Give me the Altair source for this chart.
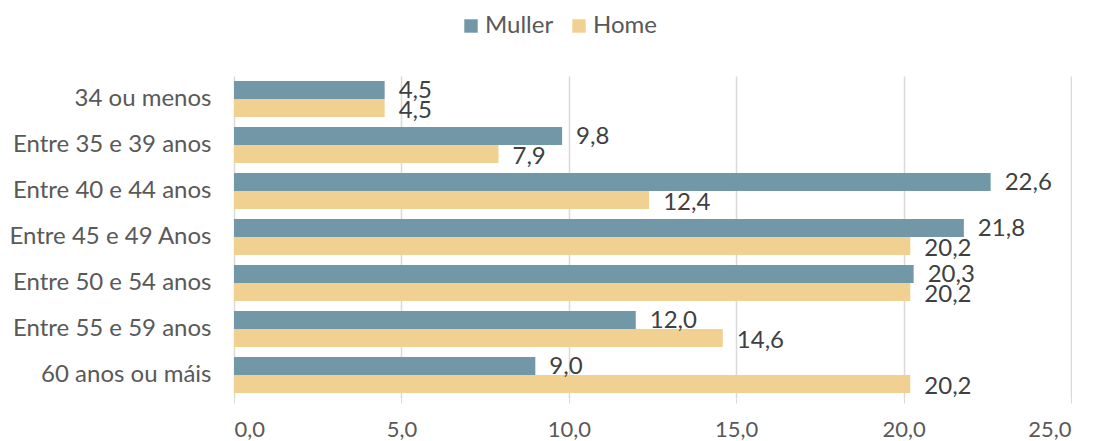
import altair as alt
import pandas as pd

categories = ["34 ou menos", "Entre 35 e 39 anos", "Entre 40 e 44 anos",
              "Entre 45 e 49 Anos", "Entre 50 e 54 anos", "Entre 55 e 59 anos",
              "60 anos ou máis"]
muller = [4.5, 9.8, 22.6, 21.8, 20.3, 12.0, 9.0]
home = [4.5, 7.9, 12.4, 20.2, 20.2, 14.6, 20.2]
series = ["Muller", "Home"]
colors = ["#7298A8", "#F1D192"]
x_ticks = [0, 5, 10, 15, 20, 25]

rows = []
for c, m, h in zip(categories, muller, home):
    rows.append({"cat": c, "serie": "Muller", "val": m})
    rows.append({"cat": c, "serie": "Home", "val": h})
df = pd.DataFrame(rows)

FONT = "Lato"
xscale = alt.Scale(domain=[0, 25], nice=False, zero=True)

base = alt.Chart(df).transform_calculate(
    label="replace(format(datum.val, '.1f'), '.', ',')"
).encode(
    y=alt.Y("cat:N", sort=categories,
            scale=alt.Scale(paddingInner=0.22, paddingOuter=0.11),
            axis=alt.Axis(title=None, labelFontSize=24, labelColor="#595959",
                          labelFont=FONT, ticks=False, domain=False, labelLimit=0,
                          labelPadding=23, grid=False)),
    yOffset=alt.YOffset("serie:N", sort=series,
                        scale=alt.Scale(domain=series, paddingInner=0, paddingOuter=0)),
)

bars = base.mark_bar().encode(
    x=alt.X("val:Q", scale=xscale,
            axis=alt.Axis(title=None, values=x_ticks,
                          labelExpr="replace(format(datum.value, '.1f'), '.', ',')",
                          labelFontSize=22, labelColor="#595959", labelFont=FONT,
                          domain=False, ticks=True, tickSize=5, tickColor="#d9d9d9",
                          gridColor="#d9d9d9", gridWidth=1.5, labelPadding=16)),
    color=alt.Color("serie:N", sort=series,
                    scale=alt.Scale(domain=series, range=colors),
                    legend=alt.Legend(title=None, orient="none", direction="horizontal",
                                      legendX=225, legendY=-62, symbolType="square",
                                      symbolSize=180, symbolStrokeWidth=0,
                                      labelFontSize=24, labelColor="#595959",
                                      labelFont=FONT, columnPadding=13,
                                      labelOffset=2, symbolOffset=0)),
)

text_m = base.transform_filter("datum.serie == 'Muller'").mark_text(
    align="left", dx=14, dy=1, fontSize=24, color="#404040", font=FONT
).encode(x=alt.X("val:Q", scale=xscale), text="label:N")

text_h = base.transform_filter("datum.serie == 'Home'").mark_text(
    align="left", dx=14, dy=3, fontSize=24, color="#404040", font=FONT
).encode(x=alt.X("val:Q", scale=xscale), text="label:N")

chart = alt.layer(bars, text_m, text_h).properties(
    width=837, height=322,
    padding={"left": 0, "top": 6, "right": 0, "bottom": 0}
).configure(background="white").configure_view(stroke=None)

chart.save("out.html", embed_options={"renderer": "svg", "actions": False})
